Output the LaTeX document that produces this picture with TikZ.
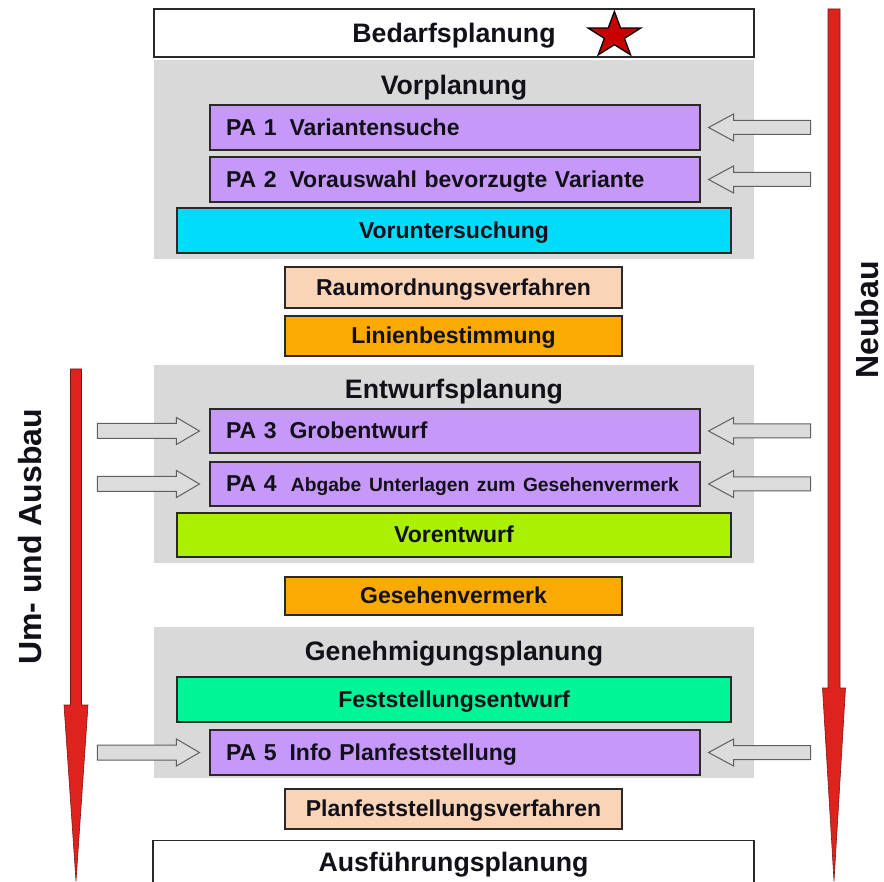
\documentclass[tikz,border=0pt]{standalone}
\usepackage{fontspec}
\setmainfont{Liberation Sans}
\usetikzlibrary{shapes.geometric}
\definecolor{pac}{RGB}{198,152,250}
\definecolor{cyanc}{RGB}{0,220,250}
\definecolor{peachc}{RGB}{250,212,182}
\definecolor{orangec}{RGB}{250,170,0}
\definecolor{limec}{RGB}{170,240,0}
\definecolor{mintc}{RGB}{0,245,150}
\definecolor{grpc}{RGB}{217,217,217}
\definecolor{redc}{RGB}{222,35,30}
\definecolor{redline}{RGB}{130,20,20}
\definecolor{starc}{RGB}{200,0,0}
\definecolor{arrc}{RGB}{220,220,220}
\definecolor{arrline}{RGB}{95,95,95}
\definecolor{txtc}{RGB}{18,16,24}
\definecolor{edgec}{RGB}{45,40,40}
\begin{document}
\begin{tikzpicture}[x=1pt,y=-1pt,
  box/.style={rectangle, draw=edgec, line width=1.1pt, inner sep=0pt, text=txtc,
    font=\fontsize{23}{27}\selectfont\bfseries, text height=16.8pt, text depth=1pt},
  title/.style={inner sep=0pt, text=txtc, font=\fontsize{26.7}{30}\selectfont\bfseries,
    text height=19.5pt, text depth=0.5pt},
  grp/.style={rectangle, fill=grpc, inner sep=0pt, minimum width=600pt},
  pabox/.style={box, fill=pac, minimum width=490pt, minimum height=45pt,
    text width=458pt, align=left, inner xsep=16pt},
  widebox/.style={box, minimum width=554pt, minimum height=45pt},
  midbox/.style={box, minimum width=337pt, minimum height=40pt},
  vtext/.style={rotate=90, inner sep=0pt, text=txtc, font=\fontsize{32}{36}\selectfont\bfseries},
  garrow/.style={fill=arrc, draw=arrline, line width=1pt, line join=miter},
  redarrow/.style={fill=redc, draw=redline, line width=0.6pt},
  garrowL/.pic={\path[garrow] (0,0) -- (25,-13.5) -- (25,-7) -- (102,-7) -- (102,7) -- (25,7) -- (25,13.5) -- cycle;},
  garrowR/.pic={\path[garrow] (0,0) -- (-23,-13.5) -- (-23,-7.5) -- (-102,-7.5) -- (-102,7.5) -- (-23,7.5) -- (-23,13.5) -- cycle;}
]
\clip (0,0) rectangle (884,882);
\fill[white] (0,0) rectangle (884,882);

% group backgrounds
\node[grp, minimum height=199pt] (g1) at (454,159.5) {};
\node[grp, minimum height=198pt] (g2) at (454,464) {};
\node[grp, minimum height=151pt] (g3) at (454,702.5) {};

% top box
\node[box, fill=white, minimum width=600pt, minimum height=48pt, line width=1.3pt,
  font=\fontsize{26.7}{30}\selectfont\bfseries, text height=19.5pt, text depth=0.5pt]
  (bedarf) at (454,33) {Bedarfsplanung};
\node[star, star points=5, star point ratio=2.618, minimum size=48pt, inner sep=0pt,
  fill=starc, draw=black, line width=1.3pt, xscale=1.15, transform shape] (star) at (614.4,35.5) {};

% Vorplanung
\node[title] (t1) at (454,85) {Vorplanung};
\node[pabox] (pa1) at (455,127.5) {PA 1\hspace{0.56em}Variantensuche};
\node[pabox] (pa2) at (455,179.5) {PA 2\hspace{0.56em}Vorauswahl bevorzugte Variante};
\node[widebox, fill=cyanc] (vorunt) at (454,230.5) {Voruntersuchung};

\node[midbox, fill=peachc, minimum height=41pt] (raum) at (453.5,287.5) {Raumordnungsverfahren};
\node[midbox, fill=orangec] (linien) at (453.5,336) {Linienbestimmung};

% Entwurfsplanung
\node[title] (t2) at (454,389) {Entwurfsplanung};
\node[pabox, minimum height=44pt] (pa3) at (455,431) {PA 3\hspace{0.56em}Grobentwurf};
\node[pabox, minimum height=44pt] (pa4) at (455,484) {PA 4\hspace{0.62em}{\fontsize{19.2}{22}\selectfont Abgabe Unterlagen zum Gesehenvermerk}};
\node[widebox, fill=limec, minimum height=44pt] (vorentw) at (454,535) {Vorentwurf};

\node[midbox, fill=orangec, minimum height=38pt] (gesehen) at (453.5,596) {Gesehenvermerk};

% Genehmigungsplanung
\node[title] (t3) at (454,651) {Genehmigungsplanung};
\node[widebox, fill=mintc] (festst) at (454,699.5) {Feststellungsentwurf};
\node[pabox] (pa5) at (455,752.5) {PA 5\hspace{0.56em}Info Planfeststellung};

\node[midbox, fill=peachc] (planf) at (453.5,809) {Planfeststellungsverfahren};

% bottom box (runs off the page)
\node[box, fill=white, minimum width=601pt, minimum height=70pt, line width=1.3pt, anchor=north] (ausbox) at (453.5,840) {};
\node[title] (ausf) at (453.5,862) {Ausführungsplanung};

% gray block arrows
\pic at ([xshift=8pt]pa1.east) {garrowL};
\pic at ([xshift=8pt]pa2.east) {garrowL};
\pic at ([xshift=8pt]pa3.east) {garrowL};
\pic at ([xshift=8pt]pa4.east) {garrowL};
\pic at ([xshift=8pt]pa5.east) {garrowL};
\pic at ([xshift=-10pt]pa3.west) {garrowR};
\pic at ([xshift=-10pt]pa4.west) {garrowR};
\pic at ([xshift=-10pt]pa5.west) {garrowR};

% red arrows
\path[redarrow] (828,9) -- (840,9) -- (840,688) -- (845.5,688) -- (834,881) -- (822.5,688) -- (828,688) -- cycle;
\path[redarrow] (70.5,369) -- (81.5,369) -- (81.5,705) -- (88,705) -- (76,881) -- (64,705) -- (70.5,705) -- cycle;

\node[vtext] (neubau) at (867,320) {Neubau};
\node[vtext] (umaus) at (30,537) {Um- und Ausbau};
\end{tikzpicture}
\end{document}
